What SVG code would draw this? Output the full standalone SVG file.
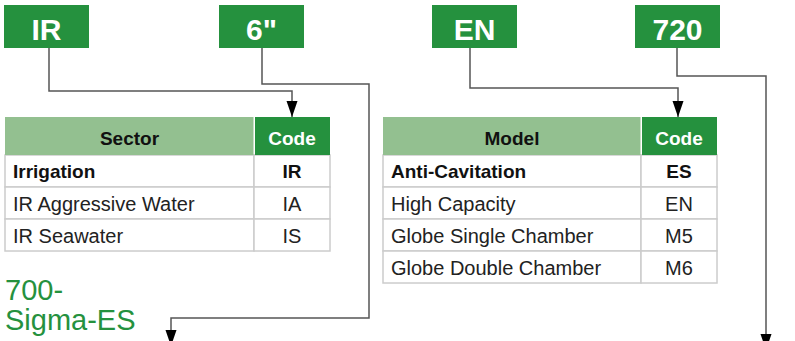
<svg xmlns="http://www.w3.org/2000/svg" width="795" height="341" viewBox="0 0 795 341">
<style>
.box{fill:#25913e}
.boxt{font-family:"Liberation Sans",Arial,sans-serif;font-weight:bold;font-size:30px;fill:#fff;text-anchor:middle}
.hdr{fill:#93c090}
.hcode{fill:#25913e}
.cell{fill:#fff;stroke:#cccccc;stroke-width:1.5}
.th{font-family:"Liberation Sans",Arial,sans-serif;font-weight:bold;font-size:19px;fill:#111;text-anchor:middle}
.thc{font-family:"Liberation Sans",Arial,sans-serif;font-weight:bold;font-size:19px;fill:#fff;text-anchor:middle}
.td{font-family:"Liberation Sans",Arial,sans-serif;font-size:20px;fill:#222}
.tdb{font-family:"Liberation Sans",Arial,sans-serif;font-size:19px;font-weight:bold;fill:#111}
.mid{text-anchor:middle}
.conn{fill:none;stroke:#555;stroke-width:1.5}
.title{font-family:"Liberation Sans",Arial,sans-serif;font-size:29px;fill:#25913e}
</style>
<defs>
<marker id="arr" viewBox="0 -6 16 12" refX="16" refY="0" markerWidth="16" markerHeight="12" markerUnits="userSpaceOnUse" orient="auto">
<path d="M0,-5.5 L16,0 L0,5.5 Z" fill="#000"/>
</marker>
</defs>

<g id="node-IR"><rect class="box" x="4" y="5" width="85" height="43"/><text class="boxt" x="46.5" y="40">IR</text></g>
<g id="node-6in"><rect class="box" x="219" y="5" width="85" height="43"/><text class="boxt" x="261.5" y="40">6"</text></g>
<g id="node-EN"><rect class="box" x="432" y="5" width="85" height="43"/><text class="boxt" x="474.5" y="40">EN</text></g>
<g id="node-720"><rect class="box" x="635" y="5" width="85" height="43"/><text class="boxt" x="677.5" y="40">720</text></g>

<g id="connectors">
<path class="conn" d="M49,48 V91 H292 V117" marker-end="url(#arr)"/>
<path class="conn" d="M262,48 V84 H369 V318 H171 V346" marker-end="url(#arr)"/>
<path class="conn" d="M470,48 V88 H678 V117" marker-end="url(#arr)"/>
<path class="conn" d="M677,48 V76 H766 V350" marker-end="url(#arr)"/>
</g>

<g id="table-sector">
<rect class="cell" x="5" y="155" width="249" height="32"/><rect class="cell" x="254" y="155" width="76" height="32"/>
<rect class="cell" x="5" y="187" width="249" height="32"/><rect class="cell" x="254" y="187" width="76" height="32"/>
<rect class="cell" x="5" y="219" width="249" height="32"/><rect class="cell" x="254" y="219" width="76" height="32"/>
<rect class="hdr" x="5" y="117" width="248.5" height="38"/>
<rect class="hcode" x="255" y="117" width="75" height="38"/>
<text class="th" x="129.5" y="145">Sector</text>
<text class="thc" x="292" y="145">Code</text>
<text class="tdb" x="13" y="178">Irrigation</text><text class="tdb mid" x="292" y="178">IR</text>
<text class="td" x="13" y="211">IR Aggressive Water</text><text class="td mid" x="292" y="211">IA</text>
<text class="td" x="13" y="243">IR Seawater</text><text class="td mid" x="292" y="243">IS</text>
</g>

<g id="table-model">
<rect class="cell" x="383" y="155" width="258" height="32"/><rect class="cell" x="641" y="155" width="76" height="32"/>
<rect class="cell" x="383" y="187" width="258" height="32"/><rect class="cell" x="641" y="187" width="76" height="32"/>
<rect class="cell" x="383" y="219" width="258" height="32"/><rect class="cell" x="641" y="219" width="76" height="32"/>
<rect class="cell" x="383" y="251" width="258" height="32"/><rect class="cell" x="641" y="251" width="76" height="32"/>
<rect class="hdr" x="383" y="117" width="257.5" height="38"/>
<rect class="hcode" x="642" y="117" width="75" height="38"/>
<text class="th" x="512" y="145">Model</text>
<text class="thc" x="679" y="145">Code</text>
<text class="tdb" x="391" y="178">Anti-Cavitation</text><text class="tdb mid" x="679" y="178">ES</text>
<text class="td" x="391" y="211">High Capacity</text><text class="td mid" x="679" y="211">EN</text>
<text class="td" x="391" y="243">Globe Single Chamber</text><text class="td mid" x="679" y="243">M5</text>
<text class="td" x="391" y="275">Globe Double Chamber</text><text class="td mid" x="679" y="275">M6</text>
</g>

<g id="title">
<text class="title" x="5" y="300">700-</text>
<text class="title" x="5" y="330">Sigma-ES</text>
</g>
</svg>
